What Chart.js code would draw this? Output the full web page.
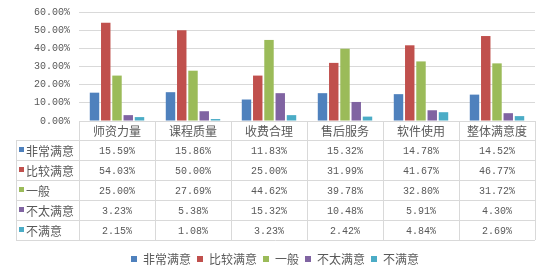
<!DOCTYPE html>
<html>
<head>
<meta charset="utf-8">
<script src="https://cdn.jsdelivr.net/npm/chart.js@4"></script>
<style>
  html, body { margin: 0; padding: 0; background: #fff; }
</style>
</head>
<body>
<canvas id="chart" width="550" height="271"></canvas>
<script>
// dados
const categories = ['师资力量', '课程质量', '收费合理', '售后服务', '软件使用', '整体满意度'];
const seriesNames = ['非常满意', '比较满意', '一般', '不太满意', '不满意'];
const verySatisfied = [15.59, 15.86, 11.83, 15.32, 14.78, 14.52];
const fairlySatisfied = [54.03, 50.00, 25.00, 31.99, 41.67, 46.77];
const neutral = [25.00, 27.69, 44.62, 39.78, 32.80, 31.72];
const notVerySatisfied = [3.23, 5.38, 15.32, 10.48, 5.91, 4.30];
const dissatisfied = [2.15, 1.08, 3.23, 2.42, 4.84, 2.69];
const yTicks = [0, 10, 20, 30, 40, 50, 60];

const seriesValues = [verySatisfied, fairlySatisfied, neutral, notVerySatisfied, dissatisfied];
const colors = ['#4F81BD', '#C0504D', '#9BBB59', '#8064A2', '#4BACC6'];

const textColor = '#595959';
const lineColor = '#D9D9D9';
const cjkFont = '12px "Noto Sans CJK SC", sans-serif';
const numFont = '10px "Liberation Mono", monospace';

// desenha a tabela de dados abaixo do gráfico
const dataTable = {
    id: 'dataTable',
    afterDraw(chart) {
        const ctx = chart.ctx;
        const x = chart.scales.x;
        const top = chart.chartArea.bottom;
        const colW = (x.right - x.left) / categories.length;
        const labelLeft = 16;
        const headH = 19;
        const rowH = 20;
        const tableBottom = top + headH + rowH * seriesNames.length;

        ctx.save();
        ctx.strokeStyle = lineColor;
        ctx.lineWidth = 1;

        // linhas verticais
        for (let i = 0; i <= categories.length; i++) {
            const px = Math.round(x.left + i * colW) + 0.5;
            ctx.beginPath();
            ctx.moveTo(px, top);
            ctx.lineTo(px, tableBottom);
            ctx.stroke();
        }
        ctx.beginPath();
        ctx.moveTo(labelLeft + 0.5, top + headH);
        ctx.lineTo(labelLeft + 0.5, tableBottom);
        ctx.stroke();

        // linhas horizontais
        for (let r = 0; r <= seriesNames.length; r++) {
            const py = Math.round(top + headH + r * rowH) + 0.5;
            ctx.beginPath();
            ctx.moveTo(labelLeft, py);
            ctx.lineTo(x.right, py);
            ctx.stroke();
        }

        ctx.fillStyle = textColor;
        ctx.textBaseline = 'middle';
        ctx.textAlign = 'center';
        ctx.font = cjkFont;
        categories.forEach((c, i) => {
            ctx.fillText(c, x.left + (i + 0.5) * colW, top + headH / 2 + 1);
        });

        seriesNames.forEach((name, r) => {
            const cy = top + headH + r * rowH + rowH / 2 + 1;
            ctx.fillStyle = colors[r];
            ctx.fillRect(labelLeft + 3, cy - 4, 5, 5);
            ctx.fillStyle = textColor;
            ctx.textAlign = 'left';
            ctx.font = cjkFont;
            ctx.fillText(name, labelLeft + 10, cy);
            ctx.textAlign = 'center';
            ctx.font = numFont;
            seriesValues[r].forEach((v, i) => {
                ctx.fillText(v.toFixed(2) + '%', x.left + (i + 0.5) * colW, cy);
            });
        });
        ctx.restore();
    }
};

const ctx = document.getElementById('chart').getContext('2d');
const chart = new Chart(ctx, {
    type: 'bar',
    data: {
        labels: categories,
        datasets: seriesNames.map((name, i) => ({
            label: name,
            data: seriesValues[i],
            backgroundColor: colors[i],
            borderWidth: 0
        }))
    },
    options: {
        responsive: false,
        animation: false,
        devicePixelRatio: 1,
        layout: { padding: { top: 0, right: 15, bottom: -4, left: 15 } },
        datasets: {
            bar: { categoryPercentage: 0.74, barPercentage: 0.84 }
        },
        scales: {
            x: {
                ticks: { display: false },
                grid: { display: false },
                border: { color: lineColor },
                afterFit(scale) { scale.height = 126; }
            },
            y: {
                min: 0,
                max: 60,
                afterBuildTicks(scale) { scale.ticks = yTicks.map(v => ({ value: v })); },
                ticks: {
                    color: textColor,
                    font: { family: '"Liberation Mono", monospace', size: 10 },
                    padding: 6,
                    callback: v => v.toFixed(2) + '%'
                },
                grid: { color: lineColor, drawTicks: true, tickLength: 3, tickColor: 'rgba(0,0,0,0)' },
                border: { display: false },
                afterFit(scale) { scale.width = 64; }
            }
        },
        plugins: {
            legend: {
                position: 'bottom',
                labels: {
                    color: textColor,
                    font: { family: '"Noto Sans CJK SC", sans-serif', size: 12 },
                    boxWidth: 6,
                    boxHeight: 6,
                    padding: 6
                }
            },
            tooltip: { enabled: false }
        }
    },
    plugins: [dataTable]
});
</script>
</body>
</html>
